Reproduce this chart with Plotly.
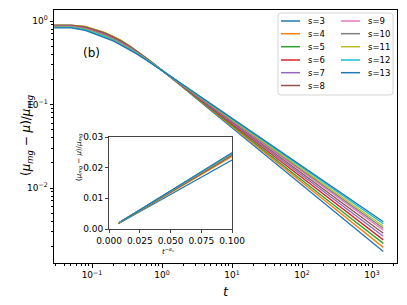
import plotly.graph_objects as go

# ---------------- data ----------------
t = [0.029, 0.05, 0.08, 0.15, 0.2, 0.26, 0.34, 0.44, 0.58, 0.77, 1, 2, 5, 10, 30, 100, 300, 1450]

s_labels = ["s=3", "s=4", "s=5", "s=6", "s=7", "s=8", "s=9", "s=10", "s=11", "s=12", "s=13"]

y_s3 = [0.891, 0.891, 0.855, 0.725, 0.652, 0.582, 0.505, 0.435, 0.366, 0.305, 0.2563, 0.1597, 0.0849, 0.0527, 0.02472, 0.01079, 0.00506, 0.001738]
y_s4 = [0.895, 0.895, 0.861, 0.731, 0.657, 0.587, 0.508, 0.437, 0.368, 0.3057, 0.2563, 0.1613, 0.0870, 0.0546, 0.02606, 0.01159, 0.00553, 0.001946]
y_s5 = [0.888, 0.888, 0.851, 0.721, 0.648, 0.579, 0.503, 0.434, 0.3656, 0.3048, 0.2563, 0.1630, 0.0892, 0.0565, 0.02744, 0.01242, 0.00603, 0.002173]
y_s6 = [0.881, 0.881, 0.841, 0.711, 0.639, 0.5705, 0.497, 0.4294, 0.3631, 0.3036, 0.2563, 0.1646, 0.0911, 0.0583, 0.02871, 0.01321, 0.00650, 0.002394]
y_s7 = [0.874, 0.874, 0.832, 0.701, 0.630, 0.563, 0.491, 0.4256, 0.3609, 0.3027, 0.2563, 0.1661, 0.0931, 0.0601, 0.03003, 0.01404, 0.00702, 0.002637]
y_s8 = [0.867, 0.867, 0.823, 0.692, 0.622, 0.555, 0.486, 0.4215, 0.3584, 0.3015, 0.2563, 0.1674, 0.0948, 0.0617, 0.03122, 0.01480, 0.00749, 0.002865]
y_s9 = [0.860, 0.860, 0.813, 0.682, 0.613, 0.5475, 0.480, 0.4177, 0.3563, 0.3006, 0.2563, 0.1687, 0.0966, 0.0633, 0.03245, 0.01560, 0.00799, 0.003113]
y_s10 = [0.853, 0.853, 0.804, 0.672, 0.604, 0.540, 0.475, 0.414, 0.3542, 0.2997, 0.2563, 0.1696, 0.0977, 0.0645, 0.03330, 0.01615, 0.00835, 0.00329]
y_s11 = [0.846, 0.846, 0.794, 0.664, 0.596, 0.533, 0.469, 0.410, 0.3517, 0.2985, 0.2563, 0.1705, 0.0990, 0.0656, 0.03417, 0.01673, 0.00872, 0.003476]
y_s12 = [0.839, 0.839, 0.785, 0.654, 0.588, 0.525, 0.464, 0.4064, 0.3495, 0.2976, 0.2563, 0.1716, 0.1005, 0.0670, 0.03529, 0.01748, 0.00920, 0.003725]
y_s13 = [0.830, 0.830, 0.773, 0.642, 0.577, 0.515, 0.456, 0.401, 0.3463, 0.2961, 0.2563, 0.1725, 0.1017, 0.0682, 0.03621, 0.01810, 0.00961, 0.003937]

main_series = [y_s3, y_s4, y_s5, y_s6, y_s7, y_s8, y_s9, y_s10, y_s11, y_s12, y_s13]

# inset: (mu_mg - mu)/mu_mg versus t^{-alpha_nu}
inset_x_start = [0.0075, 0.0077, 0.0079, 0.0081, 0.0083, 0.0085, 0.0087, 0.0089, 0.0091, 0.0093, 0.0095]
inset_y_start = [0.0017, 0.0018, 0.0019, 0.0020, 0.0021, 0.0021, 0.0022, 0.0022, 0.0023, 0.0023, 0.0024]
inset_x_end = 0.1
inset_y_end = [0.0225, 0.0236, 0.0240, 0.0242, 0.0243, 0.0244, 0.0245, 0.0246, 0.0247, 0.0248, 0.0249]

x_tickvals = [0.1, 1, 10, 100, 1000]
x_ticktext = ["10<sup>−1</sup>", "10<sup>0</sup>", "10<sup>1</sup>", "10<sup>2</sup>", "10<sup>3</sup>"]
y_tickvals = [0.01, 0.1, 1]
y_ticktext = ["10<sup>−2</sup>", "10<sup>−1</sup>", "10<sup>0</sup>"]

colors = ['#1f77b4', '#ff7f0e', '#2ca02c', '#d62728', '#9467bd', '#8c564b',
          '#e377c2', '#7f7f7f', '#bcbd22', '#17becf', '#1f77b4']

# ---------------- figure ----------------
fig = go.Figure()
for i, (lab, ys) in enumerate(zip(s_labels, main_series)):
    fig.add_trace(go.Scatter(
        x=t, y=ys, mode='lines', name=lab,
        line=dict(color=colors[i], width=1.3),
        showlegend=False, xaxis='x', yaxis='y'))

for i in range(len(s_labels)):
    fig.add_trace(go.Scatter(
        x=[inset_x_start[i], inset_x_end], y=[inset_y_start[i], inset_y_end[i]],
        mode='lines', line=dict(color=colors[i], width=1.2),
        showlegend=False, xaxis='x2', yaxis='y2'))

font = "DejaVu Sans"
# page has an 8px body margin; plot area wanted at page px 54..397 x 10..263
OFF = 8
PL, PR, PT, PB = 54, 397, 10, 263
W, H = 407 - OFF, 305 - OFF
ML, MT = PL - OFF, PT - OFF
MR = OFF + W - PR
MB = OFF + H - PB
pw, ph = PR - PL, PB - PT


def px(x):
    return (x - PL) / pw


def py(y):
    return (PB - y) / ph


axis_common = dict(showline=True, mirror=True, linecolor='black', linewidth=1,
                   ticks='outside', ticklen=3.5, tickwidth=1, tickcolor='black',
                   showgrid=False, zeroline=False, automargin=False)

mu_title = '(<i>μ</i><sub><i>mg</i></sub> − <i>μ</i>)/<i>μ</i><sub><i>mg</i></sub>'

shapes = []
annotations = []

# legend frame with rounded corners
lx0, lx1, ly0, ly1, rr = 278, 393, 13, 95, 3
rx, ry = rr / pw, rr / ph
X0, X1, Y0, Y1 = px(lx0), px(lx1), py(ly1), py(ly0)
frame_path = (f"M{X0 + rx},{Y1} L{X1 - rx},{Y1} Q{X1},{Y1} {X1},{Y1 - ry} "
              f"L{X1},{Y0 + ry} Q{X1},{Y0} {X1 - rx},{Y0} L{X0 + rx},{Y0} "
              f"Q{X0},{Y0} {X0},{Y0 + ry} L{X0},{Y1 - ry} Q{X0},{Y1} {X0 + rx},{Y1} Z")
shapes.append(dict(type='path', xref='paper', yref='paper', path=frame_path,
                   line=dict(color='#d5d5d5', width=1), fillcolor='rgba(255,255,255,0.8)',
                   layer='above'))
# legend entries (two columns, column-major like matplotlib ncol=2)
row_y = [21, 33.7, 46.7, 60, 72.7, 85.5]
for i, lab in enumerate(s_labels):
    col = 0 if i < 6 else 1
    row = i if i < 6 else i - 6
    x0 = 281 if col == 0 else 341
    yy = row_y[row]
    shapes.append(dict(type='line', xref='paper', yref='paper',
                       x0=px(x0), x1=px(x0 + 19), y0=py(yy), y1=py(yy),
                       line=dict(color=colors[i], width=1.5), layer='above'))
    annotations.append(dict(text=lab, x=px(x0 + 25), y=py(yy), xref='paper', yref='paper',
                            xanchor='left', yanchor='middle', showarrow=False,
                            font=dict(size=8.5, family=font)))

annotations += [
    dict(text='(b)', x=px(81), y=py(44), xref='paper', yref='paper',
         showarrow=False, font=dict(size=12, family=font)),
    dict(text='<i>t</i>', x=px(226), y=py(282), xref='paper', yref='paper',
         xanchor='center', yanchor='top', showarrow=False, font=dict(size=13, family=font)),
    dict(text=mu_title, x=px(17), y=py(136), xref='paper', yref='paper',
         textangle=-90, showarrow=False, font=dict(size=12, family=font)),
    dict(text=mu_title, x=px(73), y=py(183), xref='paper', yref='paper',
         textangle=-90, showarrow=False, font=dict(size=7, family=font)),
    dict(text='<i>t</i><sup>−<i>α</i><sub>ν</sub></sup>', x=px(168), y=py(244), xref='paper', yref='paper',
         xanchor='center', yanchor='top', showarrow=False, font=dict(size=7, family=font)),
]

fig.update_layout(
    width=W, height=H,
    margin=dict(l=ML, r=MR, t=MT, b=MB, pad=0),
    paper_bgcolor='white', plot_bgcolor='white',
    font=dict(family=font, size=9, color='black'),
    showlegend=False,
    xaxis=dict(type='log', range=[-1.543, 3.357], domain=[0, 1],
               tickvals=x_tickvals, ticktext=x_ticktext,
               minor=dict(dtick='D1', ticks='outside', ticklen=2, tickcolor='black', showgrid=False),
               **axis_common),
    yaxis=dict(type='log', range=[-2.898, 0.132], domain=[0, 1],
               tickvals=y_tickvals, ticktext=y_ticktext,
               minor=dict(dtick='D1', ticks='outside', ticklen=2, tickcolor='black', showgrid=False),
               **axis_common),
    xaxis2=dict(range=[0, 0.1], domain=[px(109), px(232)], anchor='y2',
                tickvals=[0, 0.025, 0.05, 0.075, 0.1], tickformat='.3f',
                tickfont=dict(size=9), automargin=False,
                showline=True, mirror=True, linecolor='#444', linewidth=1,
                ticks='outside', ticklen=3, tickcolor='#444', showgrid=False, zeroline=False),
    yaxis2=dict(range=[0, 0.03], domain=[py(229), py(137)], anchor='x2',
                tickvals=[0, 0.01, 0.02, 0.03], tickformat='.2f',
                tickfont=dict(size=9), automargin=False,
                showline=True, mirror=True, linecolor='#444', linewidth=1,
                ticks='outside', ticklen=3, tickcolor='#444', showgrid=False, zeroline=False),
    shapes=shapes,
    annotations=annotations,
)

fig.write_html("out.html")
